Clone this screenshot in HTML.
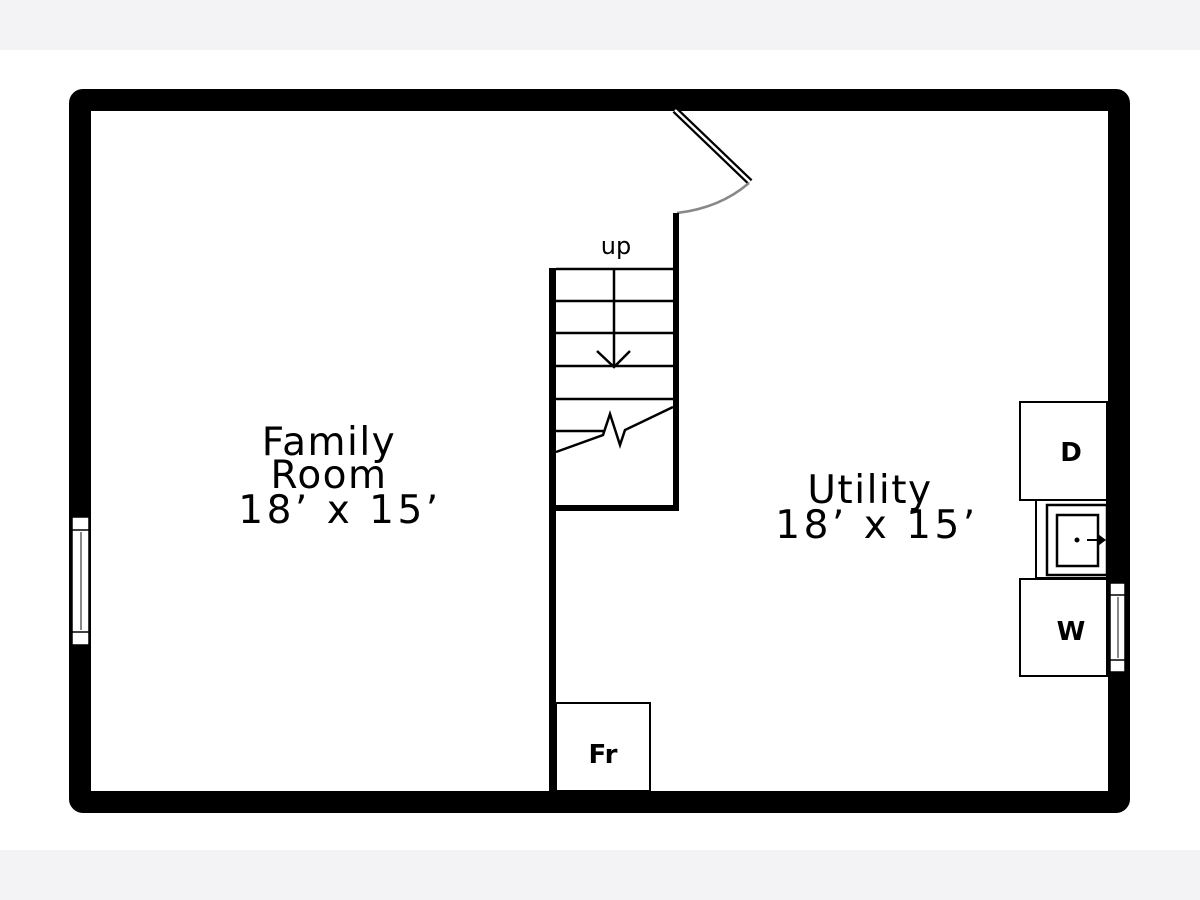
<!DOCTYPE html>
<html><head><meta charset="utf-8"><style>
html,body{margin:0;padding:0;background:#fff;}
svg{display:block}
text{font-family:"DejaVu Sans","Liberation Sans",sans-serif;fill:#000}
</style></head><body>
<svg width="1200" height="900" viewBox="0 0 1200 900" xmlns="http://www.w3.org/2000/svg">
<rect x="0" y="0" width="1200" height="50" fill="#f3f3f5"/>
<rect x="0" y="850" width="1200" height="50" fill="#f3f3f5"/>
<rect x="0" y="50" width="1200" height="800" fill="#fff"/>
<rect x="80" y="100" width="1039" height="702" fill="none" stroke="#000" stroke-width="22" rx="3"/>
<!-- left window -->
<rect x="72" y="517" width="17" height="128" fill="#fff" stroke="#000" stroke-width="1.5"/>
<rect x="72" y="530" width="17" height="102" fill="#fff" stroke="#000" stroke-width="1.5"/>
<line x1="81" y1="532" x2="81" y2="630" stroke="#888" stroke-width="2"/>
<!-- right window -->
<rect x="1110" y="583" width="15" height="89" fill="#fff" stroke="#000" stroke-width="1.5"/>
<rect x="1110" y="595" width="15" height="65" fill="#fff" stroke="#000" stroke-width="1.5"/>
<line x1="1118" y1="597" x2="1118" y2="658" stroke="#888" stroke-width="2"/>
<!-- door -->
<line x1="675" y1="110" x2="750" y2="182" stroke="#000" stroke-width="7"/>
<line x1="675" y1="110" x2="750" y2="182" stroke="#fff" stroke-width="2.5"/>
<path d="M749 183 Q720 208 677 213" fill="none" stroke="#888" stroke-width="2.5"/>
<!-- stair walls -->
<rect x="549" y="268" width="7" height="523" fill="#000"/>
<rect x="673" y="213" width="6" height="298" fill="#000"/>
<rect x="549" y="505" width="130" height="6" fill="#000"/>
<g stroke="#000" stroke-width="2.5">
<line x1="556" y1="269" x2="673" y2="269"/>
<line x1="556" y1="301" x2="673" y2="301"/>
<line x1="556" y1="333" x2="673" y2="333"/>
<line x1="556" y1="366" x2="673" y2="366"/>
<line x1="556" y1="399" x2="673" y2="399"/>
<line x1="556" y1="431" x2="604" y2="431"/>
<line x1="614" y1="269" x2="614" y2="367"/>
</g>
<polyline points="597,351 614,367 630,351" fill="none" stroke="#000" stroke-width="2.5"/>
<polyline points="556,452 603,435 610,414 620,445 625,430 673,407" fill="none" stroke="#000" stroke-width="2.5"/>
<text x="616" y="254" font-size="24" text-anchor="middle">up</text>
<!-- Fr -->
<rect x="556" y="703" width="94" height="88" fill="none" stroke="#000" stroke-width="2"/>
<text x="603" y="763" font-size="26" text-anchor="middle" font-weight="bold">Fr</text>
<!-- D -->
<rect x="1020" y="402" width="87" height="98" fill="none" stroke="#000" stroke-width="2"/>
<text x="1071" y="461" font-size="26" text-anchor="middle" font-weight="bold">D</text>
<!-- sink -->
<rect x="1036" y="500" width="71" height="78" fill="none" stroke="#000" stroke-width="2"/>
<rect x="1047" y="505" width="60" height="70" fill="none" stroke="#000" stroke-width="2.5"/>
<rect x="1057" y="515" width="41" height="51" fill="none" stroke="#000" stroke-width="2.5"/>
<circle cx="1077" cy="540" r="2.5" fill="#000"/>
<line x1="1087" y1="540" x2="1100" y2="540" stroke="#000" stroke-width="2"/>
<polygon points="1098,534 1106,540 1098,546" fill="#000"/>
<!-- W -->
<rect x="1020" y="579" width="87" height="97" fill="none" stroke="#000" stroke-width="2"/>
<text x="1071" y="640" font-size="26" text-anchor="middle" font-weight="bold">W</text>
<!-- room labels -->
<text x="329" y="455" font-size="39" text-anchor="middle" letter-spacing="1.5">Family</text>
<text x="329" y="488" font-size="39" text-anchor="middle" letter-spacing="1.5">Room</text>
<text x="340" y="523" font-size="39" text-anchor="middle" letter-spacing="3.5">18’ x 15’</text>
<text x="870" y="503" font-size="39" text-anchor="middle" letter-spacing="1.5">Utility</text>
<text x="877" y="538" font-size="39" text-anchor="middle" letter-spacing="3.5">18’ x 15’</text>
</svg>
</body></html>
